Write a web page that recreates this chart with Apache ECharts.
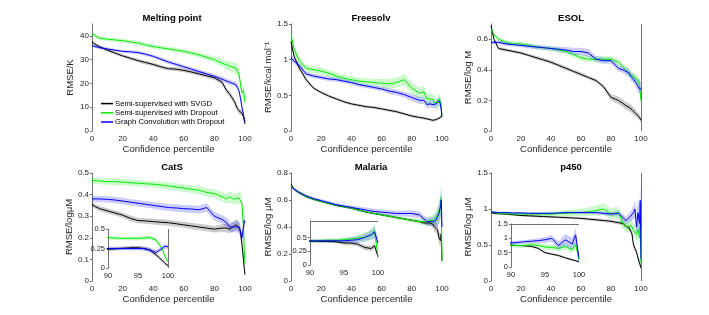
<!DOCTYPE html>
<html><head><meta charset="utf-8">
<script src="https://cdn.jsdelivr.net/npm/echarts@6/dist/echarts.min.js"></script>
<style>html,body{margin:0;padding:0;background:#fff}#c{width:709px;height:315px}</style>
</head><body><div id="c"></div>
<script>
const seriesNames = ['Semi-supervised with SVGD','Semi-supervised with Dropout','Graph Convolution with Dropout'];
const titles = ['Melting point','Freesolv','ESOL','CatS','Malaria','p450'];
const yNames = ['RMSE/K','RMSE/kcal mol\u207B\u00B9','RMSE/log M','RMSE/log\u03BCM','RMSE/log \u03BCM','RMSE/log \u03BCM'];
const xName = 'Confidence percentile';
const xTicks = [0,20,40,60,80,100];
const insetXTicks = [90,95,100];

// confidence percentile sample points (shared by all panels)
const pct = [0,2,5,10,15,20,25,30,35,40,45,50,55,60,65,70,75,80,85,88,90,91,92,93,94,95,96,97,98,99,99.5,100];

// Melting point
const mpYTicks = [0,10,20,30,40];
const mpSvgd = [37.5,36.5,35.5,34,32.8,31.6,30.6,29.6,28.8,28,27,26.2,26,25.5,24.8,24,23.2,22.4,20.5,17,15.5,14.5,13.5,12.5,11,9.5,8.5,8,7.5,6,4.5,3];
const mpSvgdErr = [0.6,0.6,0.6,0.7,0.7,0.7,0.7,0.8,0.8,0.8,0.8,0.8,0.8,0.8,0.8,0.8,0.9,0.9,1.0,1.1,1.2,1.2,1.2,1.3,1.3,1.3,1.3,1.3,1.3,1.3,1.2,1.0];
const mpDrop = [41,40,39,38.6,38.3,38,37.5,37,36.2,35.5,35,34.5,34,33.5,32.8,32,31,30,28.5,27.8,27.3,27,26.8,26.6,26.5,26.2,24,20,16,17,15,12];
const mpDropErr = [0.8,0.8,0.8,0.8,0.8,0.8,0.8,0.8,0.9,0.9,0.9,0.9,1.0,1.0,1.0,1.1,1.2,1.3,1.5,1.8,2.0,2.0,2.2,2.2,2.4,2.5,2.5,2.5,2.5,2.5,2.5,2.0];
const mpGc = [36,35.5,35,34.5,34,33.5,33.3,33,32.3,31.4,30.2,29,28,27,26,25,24,23,21.8,21,20.5,20.3,20,20,19.5,19,17,14,10,7,5,4];
const mpGcErr = [0.6,0.6,0.6,0.6,0.6,0.6,0.7,0.7,0.7,0.7,0.8,0.8,0.8,0.8,0.8,0.9,0.9,0.9,1.0,1.0,1.0,1.0,1.0,1.1,1.1,1.1,1.1,1.2,1.2,1.2,1.0,0.8];

// Freesolv
const fsYTicks = [0,0.5,1,1.5];
const fsSvgd = [1.25,1.05,0.9,0.72,0.6,0.54,0.49,0.45,0.41,0.38,0.36,0.34,0.33,0.31,0.29,0.27,0.24,0.21,0.19,0.18,0.17,0.17,0.16,0.15,0.15,0.15,0.16,0.17,0.18,0.19,0.2,0.22];
const fsSvgdErr = [0.04,0.04,0.03,0.03,0.02,0.02,0.02,0.02,0.02,0.02,0.02,0.02,0.02,0.02,0.02,0.02,0.02,0.02,0.02,0.02,0.02,0.02,0.02,0.02,0.02,0.02,0.02,0.02,0.02,0.02,0.02,0.02];
const fsDrop = [1.35,1.15,1.0,0.88,0.86,0.84,0.81,0.77,0.74,0.72,0.7,0.69,0.68,0.67,0.66,0.68,0.72,0.6,0.53,0.55,0.45,0.44,0.45,0.45,0.44,0.42,0.38,0.36,0.45,0.4,0.32,0.22];
const fsDropErr = [0.08,0.07,0.06,0.05,0.05,0.05,0.05,0.05,0.05,0.05,0.05,0.05,0.05,0.06,0.07,0.07,0.08,0.08,0.08,0.08,0.08,0.08,0.08,0.08,0.08,0.08,0.08,0.08,0.08,0.09,0.1,0.08];
const fsGc = [1.03,0.98,0.93,0.8,0.77,0.75,0.73,0.72,0.7,0.68,0.65,0.63,0.61,0.59,0.56,0.54,0.51,0.47,0.43,0.43,0.37,0.37,0.38,0.38,0.37,0.37,0.38,0.4,0.42,0.38,0.4,0.2];
const fsGcErr = [0.05,0.04,0.04,0.03,0.03,0.03,0.03,0.03,0.03,0.03,0.03,0.03,0.03,0.03,0.04,0.04,0.04,0.05,0.05,0.05,0.05,0.05,0.05,0.05,0.05,0.05,0.05,0.06,0.06,0.06,0.06,0.05];

// ESOL
const esYTicks = [0,0.2,0.4,0.6];
const esSvgd = [0.69,0.6,0.54,0.53,0.52,0.51,0.495,0.48,0.465,0.45,0.43,0.41,0.39,0.37,0.35,0.33,0.29,0.22,0.2,0.18,0.165,0.16,0.155,0.15,0.14,0.13,0.12,0.11,0.1,0.09,0.08,0.07];
const esSvgdErr = [0.01,0.01,0.01,0.01,0.01,0.01,0.01,0.012,0.012,0.012,0.012,0.012,0.012,0.012,0.012,0.012,0.015,0.02,0.025,0.025,0.025,0.025,0.025,0.025,0.025,0.025,0.025,0.02,0.02,0.02,0.02,0.02];
const esDrop = [0.67,0.63,0.6,0.58,0.57,0.57,0.56,0.55,0.545,0.54,0.53,0.52,0.5,0.48,0.47,0.47,0.47,0.47,0.45,0.42,0.4,0.39,0.38,0.37,0.36,0.35,0.35,0.34,0.33,0.3,0.25,0.2];
const esDropErr = [0.015,0.015,0.015,0.015,0.015,0.015,0.015,0.015,0.015,0.015,0.015,0.015,0.018,0.02,0.02,0.02,0.02,0.02,0.02,0.02,0.02,0.025,0.025,0.025,0.025,0.03,0.03,0.03,0.03,0.03,0.03,0.03];
const esGc = [0.58,0.58,0.58,0.57,0.565,0.56,0.555,0.55,0.545,0.54,0.535,0.53,0.52,0.52,0.51,0.47,0.46,0.46,0.41,0.4,0.39,0.385,0.38,0.36,0.35,0.34,0.33,0.31,0.29,0.3,0.27,0.28];
const esGcErr = [0.012,0.012,0.012,0.012,0.012,0.012,0.015,0.015,0.015,0.015,0.018,0.02,0.025,0.025,0.025,0.02,0.02,0.02,0.02,0.02,0.025,0.025,0.025,0.03,0.03,0.03,0.03,0.035,0.04,0.05,0.05,0.05];

// CatS
const csYTicks = [0,0.1,0.2,0.3,0.4,0.5];
const csInsetYTicks = [0,0.25,0.5];
const csSvgd = [0.355,0.345,0.335,0.325,0.315,0.305,0.29,0.28,0.278,0.275,0.272,0.27,0.265,0.26,0.255,0.25,0.245,0.24,0.245,0.245,0.24,0.245,0.25,0.255,0.26,0.26,0.25,0.23,0.17,0.1,0.06,0.03];
const csSvgdErr = [0.012,0.012,0.012,0.012,0.012,0.012,0.013,0.013,0.013,0.013,0.014,0.014,0.014,0.014,0.015,0.015,0.015,0.015,0.018,0.02,0.02,0.02,0.022,0.024,0.025,0.025,0.025,0.025,0.025,0.02,0.02,0.015];
const csDrop = [0.465,0.465,0.463,0.46,0.46,0.458,0.455,0.453,0.45,0.448,0.445,0.44,0.435,0.43,0.425,0.42,0.41,0.405,0.39,0.38,0.39,0.385,0.38,0.38,0.38,0.38,0.385,0.39,0.36,0.25,0.15,0.08];
const csDropErr = [0.015,0.015,0.015,0.015,0.015,0.015,0.015,0.015,0.015,0.015,0.016,0.016,0.017,0.017,0.018,0.018,0.02,0.02,0.022,0.024,0.025,0.025,0.025,0.025,0.025,0.028,0.028,0.03,0.03,0.03,0.03,0.03];
const csGc = [0.38,0.38,0.38,0.378,0.375,0.37,0.365,0.36,0.355,0.35,0.345,0.34,0.338,0.335,0.333,0.33,0.34,0.3,0.285,0.27,0.25,0.25,0.25,0.25,0.25,0.25,0.25,0.23,0.2,0.25,0.28,0.27];
const csGcErr = [0.015,0.015,0.015,0.015,0.015,0.015,0.015,0.015,0.015,0.016,0.016,0.016,0.017,0.017,0.018,0.018,0.02,0.02,0.02,0.022,0.022,0.022,0.024,0.024,0.025,0.025,0.025,0.03,0.03,0.03,0.03,0.03];

// Malaria
const mlYTicks = [0,0.2,0.4,0.6,0.8];
const mlInsetYTicks = [0,0.25,0.5];
const mlSvgd = [0.72,0.68,0.655,0.625,0.605,0.59,0.575,0.56,0.55,0.54,0.525,0.51,0.5,0.49,0.48,0.47,0.46,0.45,0.44,0.43,0.43,0.43,0.43,0.43,0.42,0.4,0.4,0.38,0.32,0.3,0.35,0.15];
const mlSvgdErr = [0.008,0.008,0.008,0.008,0.008,0.008,0.008,0.008,0.008,0.008,0.008,0.008,0.008,0.008,0.008,0.008,0.008,0.008,0.01,0.012,0.015,0.02,0.02,0.025,0.03,0.035,0.04,0.04,0.045,0.05,0.05,0.04];
const mlDrop = [0.71,0.68,0.655,0.625,0.605,0.59,0.575,0.56,0.55,0.54,0.525,0.51,0.5,0.49,0.48,0.47,0.46,0.45,0.44,0.44,0.44,0.44,0.45,0.45,0.45,0.46,0.47,0.49,0.5,0.55,0.62,0.15];
const mlDropErr = [0.008,0.008,0.008,0.008,0.008,0.008,0.008,0.008,0.008,0.008,0.008,0.008,0.008,0.01,0.01,0.012,0.012,0.015,0.02,0.025,0.03,0.03,0.035,0.035,0.04,0.045,0.05,0.06,0.08,0.1,0.14,0.1];
const mlGc = [0.7,0.68,0.66,0.63,0.61,0.595,0.58,0.565,0.555,0.545,0.535,0.525,0.515,0.51,0.505,0.5,0.5,0.5,0.49,0.46,0.44,0.44,0.44,0.44,0.44,0.44,0.45,0.46,0.5,0.55,0.6,0.4];
const mlGcErr = [0.012,0.012,0.012,0.012,0.012,0.012,0.012,0.012,0.014,0.014,0.016,0.018,0.02,0.02,0.02,0.02,0.022,0.025,0.025,0.025,0.03,0.03,0.03,0.035,0.035,0.04,0.05,0.06,0.07,0.08,0.1,0.1];

// p450
const pYTicks = [0,0.5,1,1.5];
const pInsetYTicks = [0,0.5,1,1.5];
const pSvgd = [0.95,0.94,0.935,0.93,0.92,0.91,0.905,0.9,0.895,0.89,0.885,0.88,0.875,0.87,0.86,0.85,0.84,0.83,0.81,0.8,0.76,0.75,0.74,0.72,0.65,0.5,0.45,0.4,0.32,0.25,0.22,0.18];
const pSvgdErr = [0.015,0.015,0.015,0.015,0.015,0.015,0.015,0.015,0.015,0.015,0.015,0.015,0.015,0.015,0.018,0.02,0.02,0.02,0.025,0.03,0.03,0.03,0.035,0.035,0.04,0.04,0.04,0.04,0.04,0.04,0.035,0.03];
const pDrop = [0.96,0.95,0.94,0.935,0.93,0.93,0.93,0.93,0.93,0.93,0.935,0.94,0.945,0.95,0.96,0.98,1.0,0.93,0.95,0.8,0.76,0.75,0.75,0.78,0.75,0.7,0.68,0.65,0.72,0.6,0.8,0.25];
const pDropErr = [0.02,0.02,0.02,0.02,0.02,0.025,0.025,0.03,0.03,0.035,0.04,0.045,0.05,0.055,0.06,0.07,0.08,0.08,0.08,0.08,0.08,0.08,0.08,0.09,0.09,0.1,0.1,0.1,0.12,0.12,0.15,0.12];
const pGc = [0.96,0.955,0.95,0.95,0.945,0.945,0.94,0.94,0.94,0.94,0.945,0.95,0.95,0.95,0.95,0.95,0.94,0.93,0.94,0.88,0.84,0.86,0.88,0.9,0.92,0.95,1.0,0.75,0.95,0.8,1.12,0.3];
const pGcErr = [0.015,0.015,0.015,0.015,0.015,0.015,0.015,0.015,0.015,0.015,0.015,0.015,0.015,0.02,0.02,0.02,0.025,0.03,0.04,0.05,0.05,0.06,0.06,0.07,0.08,0.1,0.12,0.15,0.2,0.22,0.25,0.2];

const FONT = 'Liberation Sans';
const lineColors = ['#000000','#00ee00','#0000ff'];
const bandColors = ['rgba(0,0,0,0.2)','rgba(0,230,0,0.2)','rgba(0,0,255,0.2)'];

const grids = [
  {left:92, top:24, width:153, height:107},
  {left:291, top:24, width:151, height:107},
  {left:491, top:24, width:150, height:107},
  {left:92, top:173, width:153, height:108},
  {left:291, top:173, width:151, height:108},
  {left:491, top:173, width:150, height:108},
  {left:108, top:229, width:60, height:39},
  {left:310, top:221, width:68, height:44},
  {left:511, top:224, width:68, height:43}
];

const panels = [
  {g:0, yMax:45, yTicks:mpYTicks, ys:[mpSvgd,mpDrop,mpGc], es:[mpSvgdErr,mpDropErr,mpGcErr]},
  {g:1, yMax:1.5, yTicks:fsYTicks, ys:[fsSvgd,fsDrop,fsGc], es:[fsSvgdErr,fsDropErr,fsGcErr]},
  {g:2, yMax:0.7, yTicks:esYTicks, ys:[esSvgd,esDrop,esGc], es:[esSvgdErr,esDropErr,esGcErr], vline:true},
  {g:3, yMax:0.5, yTicks:csYTicks, ys:[csSvgd,csDrop,csGc], es:[csSvgdErr,csDropErr,csGcErr]},
  {g:4, yMax:0.8, yTicks:mlYTicks, ys:[mlSvgd,mlDrop,mlGc], es:[mlSvgdErr,mlDropErr,mlGcErr]},
  {g:5, yMax:1.5, yTicks:pYTicks, ys:[pSvgd,pDrop,pGc], es:[pSvgdErr,pDropErr,pGcErr], vline:true},
  {g:6, inset:true, yMax:0.5, yTicks:csInsetYTicks, ys:[csSvgd,csDrop,csGc], es:[csSvgdErr,csDropErr,csGcErr], vline:true},
  {g:7, inset:true, yMax:0.8, yTicks:mlInsetYTicks, ys:[mlSvgd,mlDrop,mlGc], es:[mlSvgdErr,mlDropErr,mlGcErr], top:true},
  {g:8, inset:true, yMax:1.5, yTicks:pInsetYTicks, ys:[pSvgd,pDrop,pGc], es:[pSvgdErr,pDropErr,pGcErr], top:true}
];

function bandRenderer(ys, es, color) {
  return function (params, api) {
    if (params.dataIndex !== 0) return;
    const upper = pct.map((v,i) => api.coord([v, ys[i] + es[i]]));
    const lower = pct.map((v,i) => api.coord([v, ys[i] - es[i]])).reverse();
    const cs = params.coordSys;
    return {
      type:'polygon',
      shape:{points: upper.concat(lower)},
      style:{fill: color, stroke:null},
      clipPath:{type:'rect', shape:{x:cs.x, y:cs.y, width:cs.width, height:cs.height}}
    };
  };
}

const xAxes = [], yAxes = [], series = [];
panels.forEach(p => {
  const g = p.g;
  const xt = p.inset ? insetXTicks : xTicks;
  xAxes.push({
    type:'value', gridIndex:g, min:p.inset?90:0, max:100,
    name: p.inset ? '' : xName, nameLocation:'middle', nameGap:13,
    nameTextStyle:{fontFamily:FONT, fontSize:9.5, color:'#262626'},
    axisLine:{show:false}, axisTick:{show:false}, splitLine:{show:false},
    axisLabel:{customValues:xt, fontFamily:FONT, fontSize:p.inset?7.5:8, color:'#262626', margin:4}
  });
  yAxes.push({
    type:'value', gridIndex:g, min:0, max:p.yMax,
    name: p.inset ? '' : yNames[g], nameLocation:'middle', nameGap:(g===0||g===3?17:16),
    nameTextStyle:{fontFamily:FONT, fontSize:9.5, color:'#262626'},
    axisLine:{show:true, lineStyle:{color:'#707070', width:1}},
    axisTick:{show:true, customValues:p.yTicks, length:2, lineStyle:{color:'#707070'}},
    splitLine:{show:false},
    axisLabel:{customValues:p.yTicks, fontFamily:FONT, fontSize:p.inset?7.5:8, color:'#262626', margin:3}
  });
  for (let k = 0; k < 3; k++) {
    series.push({type:'custom', xAxisIndex:g, yAxisIndex:g, silent:true, z:1, animation:false,
      data:[[pct[0], p.ys[k][0]]], renderItem: bandRenderer(p.ys[k], p.es[k], bandColors[k])});
  }
  for (let k = 0; k < 3; k++) {
    const s = {type:'line', name:seriesNames[k], xAxisIndex:g, yAxisIndex:g,
      data:pct.map((v,i) => [v, p.ys[k][i]]), symbol:'none',
      lineStyle:{color:lineColors[k], width:1}, itemStyle:{color:lineColors[k]}, z:3, animation:false};
    if (k === 0 && (p.vline || p.top)) {
      const d = [];
      if (p.vline) d.push({xAxis:100});
      if (p.top) d.push({yAxis:p.yMax});
      s.markLine = {symbol:'none', silent:true, animation:false, label:{show:false},
        lineStyle:{color:'#707070', width:1, type:'solid'}, data:d};
    }
    series.push(s);
  }
});

const titleCenters = [[167,14],[366,14],[566,14],[167,163],[366,163],[566,163]];
const titleOpts = titles.map((t,i) => ({
  text:t, left:titleCenters[i][0], top:titleCenters[i][1]-6, textAlign:'center',
  textStyle:{fontFamily:FONT, fontSize:9.5, fontWeight:'bold', color:'#000'}
}));

const chart = echarts.init(document.getElementById('c'), null, {renderer:'canvas'});
chart.setOption({
  animation:false,
  backgroundColor:'#fff',
  title:titleOpts,
  grid:grids,
  xAxis:xAxes,
  yAxis:yAxes,
  legend:{
    data:seriesNames, orient:'vertical', left:96, top:94, itemGap:0,
    itemWidth:12, itemHeight:1.5, icon:'rect',
    textStyle:{fontFamily:FONT, fontSize:7.7, lineHeight:9.2, color:'#000', padding:[0,0,0,-3]},
    selectedMode:false
  },
  series:series
});
</script></body></html>
